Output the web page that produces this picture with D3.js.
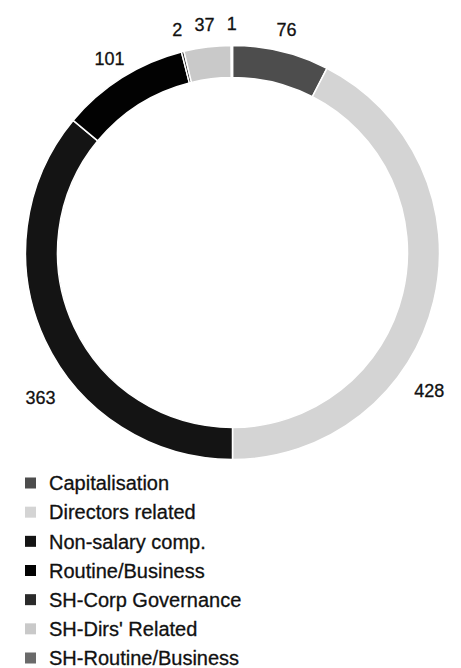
<!DOCTYPE html>
<html>
<head>
<meta charset="utf-8">
<script src="https://cdn.jsdelivr.net/npm/d3@7"></script>
<style>
  html, body { margin: 0; padding: 0; background: #fff; }
</style>
</head>
<body>
<div id="chart"></div>
<script>
const categories = ["Capitalisation", "Directors related", "Non-salary comp.", "Routine/Business",
                    "SH-Corp Governance", "SH-Dirs' Related", "SH-Routine/Business"];
const values = [76, 428, 363, 101, 2, 37, 1];
const colors = ["#4d4d4d", "#d4d4d4", "#141414", "#020202", "#2a2a2a", "#c9c9c9", "#6a6a6a"];

const width = 461, height = 668;
const cx = 232.5, cy = 252.5;
const outerR = 207, innerR = 175;

const svg = d3.select("#chart")
  .append("svg")
  .attr("width", width)
  .attr("height", height)
  .style("font-family", "'Liberation Sans', Arial, sans-serif");

const data = categories.map((c, i) => ({ name: c, value: values[i], color: colors[i] }));

const pie = d3.pie().sort(null).value(d => d.value);
const arcs = pie(data);

const arc = d3.arc().innerRadius(innerR).outerRadius(outerR);

const g = svg.append("g").attr("transform", `translate(${cx},${cy})`);

g.selectAll("path")
  .data(arcs)
  .enter()
  .append("path")
  .attr("d", arc)
  .attr("fill", d => d.data.color)
  .attr("stroke", "#fff")
  .attr("stroke-width", 1.5);

// the big slices have their labels pulled off the middle of the arc
const labelFrac = { "Directors related": 0.64, "Non-salary comp.": 0.41 };
const labelR = 230;

g.selectAll("text.val")
  .data(arcs)
  .enter()
  .append("text")
  .attr("class", "val")
  .attr("transform", d => {
    const f = labelFrac[d.data.name] ?? 0.5;
    const a = d.startAngle + (d.endAngle - d.startAngle) * f;
    const r = labelFrac[d.data.name] ? labelR + 10 : labelR;
    return `translate(${r * Math.sin(a)},${-r * Math.cos(a)})`;
  })
  .attr("text-anchor", "middle")
  .attr("dy", "0.4em")
  .style("font-size", "18px")
  .style("fill", "#111")
  .style("stroke", "#111")
  .style("stroke-width", 0.3)
  .text(d => d.data.value);

const legendY = d3.scalePoint().domain(categories).range([483, 658]);

const legend = svg.append("g");
const rows = legend.selectAll("g")
  .data(data)
  .enter()
  .append("g")
  .attr("transform", d => `translate(25,${legendY(d.name)})`);

rows.append("rect")
  .attr("x", 0)
  .attr("y", -5.5)
  .attr("width", 11)
  .attr("height", 11)
  .attr("fill", d => d.color);

rows.append("text")
  .attr("x", 24)
  .attr("dy", "0.36em")
  .style("font-size", "20px")
  .style("fill", "#111")
  .style("stroke", "#111")
  .style("stroke-width", 0.3)
  .text(d => d.name);
</script>
</body>
</html>
